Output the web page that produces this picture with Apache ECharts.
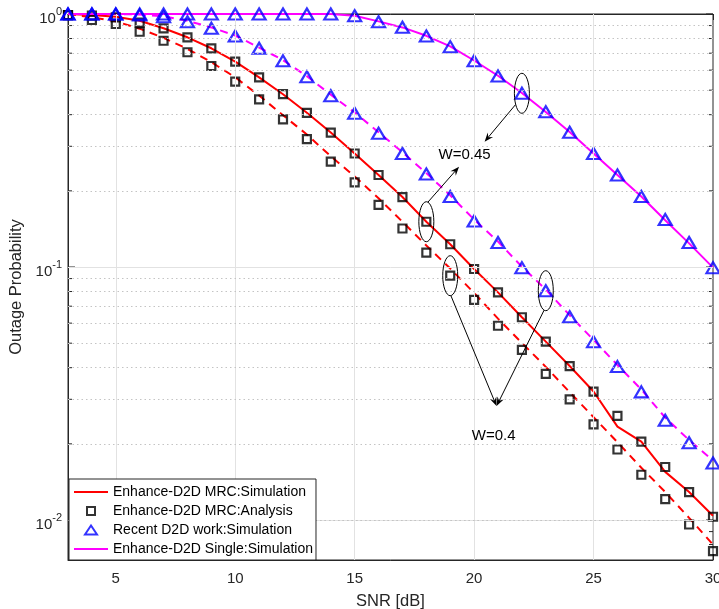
<!DOCTYPE html>
<html>
<head>
<meta charset="utf-8">
<script src="https://cdn.jsdelivr.net/npm/echarts@6/dist/echarts.min.js"></script>
<style>
  html, body { margin: 0; padding: 0; background: #fff; }
  #chart { width: 719px; height: 609px; }
</style>
</head>
<body>
<div id="chart"></div>
<script>
// SNR sweep (dB)
const snr = [3, 4, 5, 6, 7, 8, 9, 10, 11, 12, 13, 14, 15, 16, 17, 18, 19, 20, 21, 22, 23, 24, 25, 26, 27, 28, 29, 30];

// Enhance-D2D MRC, simulation (W = 0.45 solid, W = 0.4 dashed)
const mrcSimW45 = [1.0, 0.99, 0.976, 0.94, 0.878, 0.809, 0.732, 0.648, 0.562, 0.482, 0.407, 0.340, 0.281, 0.231, 0.189, 0.151, 0.123, 0.0982, 0.0794, 0.0633, 0.0507, 0.0406, 0.0322, 0.0234, 0.0204, 0.0155, 0.0129, 0.0104];
const mrcSimW40 = [1.0, 0.97, 0.935, 0.875, 0.805, 0.728, 0.645, 0.562, 0.476, 0.398, 0.334, 0.274, 0.228, 0.187, 0.151, 0.1216, 0.0986, 0.079, 0.0625, 0.0501, 0.0403, 0.032, 0.0255, 0.0203, 0.0161, 0.0129, 0.0102, 0.0080];

// Enhance-D2D MRC, analysis
const mrcAnaW45 = [0.99, 0.985, 0.97, 0.924, 0.878, 0.809, 0.732, 0.648, 0.562, 0.482, 0.407, 0.340, 0.281, 0.231, 0.189, 0.151, 0.123, 0.0982, 0.0794, 0.0633, 0.0507, 0.0406, 0.0322, 0.0258, 0.0204, 0.0162, 0.0129, 0.0103];
const mrcAnaW40 = [0.99, 0.947, 0.913, 0.851, 0.784, 0.706, 0.623, 0.540, 0.460, 0.383, 0.320, 0.261, 0.216, 0.176, 0.142, 0.114, 0.0924, 0.0741, 0.0586, 0.047, 0.0378, 0.030, 0.0239, 0.019, 0.0151, 0.0121, 0.0096, 0.00754];

// Recent D2D work, simulation
const recentW45 = [1.0, 1.0, 1.0, 1.0, 1.0, 1.0, 1.0, 1.0, 1.0, 1.0, 1.0, 1.0, 0.985, 0.932, 0.886, 0.819, 0.743, 0.653, 0.569, 0.486, 0.411, 0.341, 0.281, 0.231, 0.190, 0.154, 0.125, 0.0994];
const recentW40 = [1.0, 1.0, 1.0, 0.99, 0.976, 0.932, 0.878, 0.818, 0.732, 0.653, 0.565, 0.475, 0.405, 0.338, 0.281, 0.233, 0.190, 0.152, 0.125, 0.0994, 0.0806, 0.0636, 0.0507, 0.0404, 0.0321, 0.0248, 0.0202, 0.0168];

// Enhance-D2D single antenna, simulation
const singleSimW45 = [1.0, 1.0, 1.0, 1.0, 1.0, 1.0, 1.0, 1.0, 1.0, 1.0, 1.0, 1.0, 0.985, 0.935, 0.885, 0.82, 0.745, 0.655, 0.57, 0.487, 0.41, 0.342, 0.281, 0.231, 0.19, 0.153, 0.124, 0.0994];
const singleSimW40 = [1.0, 1.0, 1.0, 0.995, 0.98, 0.94, 0.885, 0.822, 0.737, 0.657, 0.568, 0.48, 0.408, 0.341, 0.284, 0.235, 0.192, 0.154, 0.126, 0.1003, 0.0815, 0.0645, 0.0515, 0.041, 0.0328, 0.0254, 0.0207, 0.0172];

// Axis ticks
const xTicks = [5, 10, 15, 20, 25, 30];
const yDecades = [0.01, 0.1, 1];
const yMinor = [0.008, 0.009, 0.02, 0.03, 0.04, 0.05, 0.06, 0.07, 0.08, 0.09, 0.2, 0.3, 0.4, 0.5, 0.6, 0.7, 0.8, 0.9];

// Callouts: ring around a marker, arrow to a shared label
const rings = [
  { at: 22, on: recentW45, tip: [20.44, 0.313], from: 146 },
  { at: 18, on: mrcAnaW45, tip: [19.37, 0.249], from: -78 },
  { at: 19, on: mrcAnaW40, tip: [20.94, 0.0282], from: 85 },
  { at: 23, on: recentW40, tip: [20.94, 0.0282], from: 103 }
];
const notes = [
  { text: 'W=0.45', at: [19.60, 0.277] },
  { text: 'W=0.4', at: [20.82, 0.0215] }
];

const X_MIN = 3, X_MAX = 30, Y_MIN = 0.00695, Y_MAX = 1;
const FONT = "'Liberation Sans', Arial, Helvetica, sans-serif";
const AXIS_COLOR = '#262626';

const pairs = (ys) => snr.map((x, i) => [x, ys[i]]);

const chart = echarts.init(document.getElementById('chart'), null, { renderer: 'canvas' });

const gridMarks = [].concat(
  xTicks.filter(v => v < X_MAX).map(v => ({ xAxis: v, lineStyle: { color: '#e2e2e2', width: 1, type: 'solid' } })),
  yDecades.filter(v => v < Y_MAX).map(v => ({ yAxis: v, lineStyle: { color: '#e2e2e2', width: 1, type: 'solid' } })),
  yMinor.map(v => ({ yAxis: v, lineStyle: { color: '#c4c4c4', width: 1, type: [1.5, 3] } }))
);

const lineSeries = (name, ys, color, dashed) => ({
  name, type: 'line', data: pairs(ys), symbol: 'none', clip: false, z: 3,
  lineStyle: { color, width: 2, type: dashed ? [8, 6] : 'solid' },
  itemStyle: { color }, emphasis: { disabled: true }
});
const markerSeries = (name, ys, symbol, size, color) => ({
  name, type: 'scatter', data: pairs(ys), symbol, symbolSize: size, clip: false, z: 4,
  itemStyle: { color: 'transparent', borderColor: color, borderWidth: 2.2 },
  emphasis: { disabled: true }
});

const option = {
  animation: false,
  backgroundColor: '#fff',
  grid: {
    left: 68, right: 6, top: 14, bottom: 49, outerBoundsMode: 'none', containLabel: false,
    show: true, borderColor: AXIS_COLOR, borderWidth: 1, backgroundColor: 'transparent'
  },
  xAxis: [
    {
      type: 'value', min: X_MIN, max: X_MAX, position: 'bottom',
      name: 'SNR [dB]', nameLocation: 'middle', nameGap: 33,
      nameTextStyle: { fontFamily: FONT, fontSize: 16.5, color: AXIS_COLOR },
      axisLine: { show: true, lineStyle: { color: AXIS_COLOR, width: 1 } },
      axisTick: { show: true, inside: true, length: 6, customValues: xTicks, lineStyle: { color: AXIS_COLOR } },
      axisLabel: { show: true, customValues: xTicks, margin: 11, fontFamily: FONT, fontSize: 15, color: AXIS_COLOR },
      splitLine: { show: false }
    },
    {
      type: 'value', min: X_MIN, max: X_MAX, position: 'top',
      axisLine: { show: true, lineStyle: { color: AXIS_COLOR, width: 1 } },
      axisTick: { show: true, inside: true, length: 6, customValues: xTicks, lineStyle: { color: AXIS_COLOR } },
      axisLabel: { show: false },
      splitLine: { show: false }
    }
  ],
  yAxis: {
    type: 'log', logBase: 10, min: Y_MIN, max: Y_MAX,
    name: 'Outage Probability', nameLocation: 'middle', nameGap: 30,
    nameTextStyle: { fontFamily: FONT, fontSize: 16.5, color: AXIS_COLOR },
    axisLine: { show: true, lineStyle: { color: AXIS_COLOR, width: 1 } },
    axisTick: { show: false },
    splitLine: { show: false },
    axisLabel: {
      show: true, margin: 6,
      padding: [10, 0, 0, 0],
      formatter: (v) => {
        const e = Math.log10(v);
        const r = Math.round(e);
        if (Math.abs(e - r) > 1e-6) return '';
        return '{b|10}{s|' + r + '}';
      },
      rich: {
        b: { fontFamily: FONT, fontSize: 15, color: AXIS_COLOR, lineHeight: 26 },
        s: { fontFamily: FONT, fontSize: 11, color: AXIS_COLOR, lineHeight: 13, verticalAlign: 'top' }
      }
    }
  },
  legend: {
    orient: 'vertical', left: 69, top: 479, z: 20,
    padding: [6, 3, 4, 5], itemGap: 5, itemWidth: 34, itemHeight: 12,
    backgroundColor: '#fff', borderColor: AXIS_COLOR, borderWidth: 1, borderRadius: 0,
    selectedMode: false,
    textStyle: { fontFamily: FONT, fontSize: 14, color: '#000', lineHeight: 14 },
    data: [
      { name: 'Enhance-D2D MRC:Simulation', icon: 'path://M0,0M34,12M0,5H34V7H0Z', itemStyle: { color: '#ff0000', borderWidth: 0 } },
      { name: 'Enhance-D2D MRC:Analysis', icon: 'path://M0,0M14,12M3,2H11V10H3Z', itemStyle: { color: 'transparent', borderColor: '#000', borderWidth: 2 } },
      { name: 'Recent D2D work:Simulation', icon: 'path://M0,0M14,12M7,1.5L13,10.5H1Z', itemStyle: { color: 'transparent', borderColor: '#0000ff', borderWidth: 2 } },
      { name: 'Enhance-D2D Single:Simulation', icon: 'path://M0,0M34,12M0,5H34V7H0Z', itemStyle: { color: '#ff00ff', borderWidth: 0 } }
    ]
  },
  series: [
    // background grid
    {
      name: 'grid', type: 'line', data: [], z: 1, silent: true,
      markLine: { silent: true, symbol: ['none', 'none'], label: { show: false }, animation: false, data: gridMarks }
    },
    // y ticks, both sides, major and minor
    {
      name: 'yticks', type: 'custom', z: 2, silent: true, clip: false,
      data: yDecades.map(v => [X_MIN, v, 1]).concat(yMinor.map(v => [X_MIN, v, 0])),
      renderItem: (params, api) => {
        const v = api.value(1);
        const len = api.value(2) ? 7 : 4;
        const p = api.coord([X_MIN, v]);
        const q = api.coord([X_MAX, v]);
        const st = { stroke: AXIS_COLOR, lineWidth: 1 };
        return {
          type: 'group', children: [
            { type: 'line', shape: { x1: p[0], y1: p[1], x2: p[0] + len, y2: p[1] }, style: st },
            { type: 'line', shape: { x1: q[0] - len, y1: q[1], x2: q[0], y2: q[1] }, style: st }
          ]
        };
      }
    },
    lineSeries('Enhance-D2D MRC:Simulation', mrcSimW45, '#ff0000', false),
    lineSeries('Enhance-D2D MRC:Simulation', mrcSimW40, '#ff0000', true),
    lineSeries('Enhance-D2D Single:Simulation', singleSimW45, '#ff00ff', false),
    lineSeries('Enhance-D2D Single:Simulation', singleSimW40, '#ff00ff', true),
    markerSeries('Enhance-D2D MRC:Analysis', mrcAnaW45, 'rect', 8, '#000'),
    markerSeries('Enhance-D2D MRC:Analysis', mrcAnaW40, 'rect', 8, '#000'),
    markerSeries('Recent D2D work:Simulation', recentW45, 'triangle', [13, 11], '#0000ff'),
    markerSeries('Recent D2D work:Simulation', recentW40, 'triangle', [13, 11], '#0000ff'),
    // callout rings with arrows
    {
      name: 'rings', type: 'custom', z: 6, silent: true, clip: false,
      data: rings.map((r, i) => [r.at, r.on[snr.indexOf(r.at)], i]),
      renderItem: (params, api) => {
        const r = rings[api.value(2)];
        const c = api.coord([api.value(0), api.value(1)]);
        const rx = 7.5, ry = 20;
        const a = r.from * Math.PI / 180;
        const s = [c[0] + rx * Math.cos(a), c[1] + ry * Math.sin(a)];
        const t = api.coord(r.tip);
        const dx = t[0] - s[0], dy = t[1] - s[1];
        const d = Math.hypot(dx, dy);
        const ux = dx / d, uy = dy / d, nx = -uy, ny = ux;
        const L = 9, W = 3.5;
        const head = [
          [t[0], t[1]],
          [t[0] - L * ux + W * nx, t[1] - L * uy + W * ny],
          [t[0] - 0.65 * L * ux, t[1] - 0.65 * L * uy],
          [t[0] - L * ux - W * nx, t[1] - L * uy - W * ny]
        ];
        return {
          type: 'group', children: [
            { type: 'ellipse', shape: { cx: c[0], cy: c[1], rx, ry }, style: { fill: 'none', stroke: '#000', lineWidth: 1 } },
            { type: 'line', shape: { x1: s[0], y1: s[1], x2: t[0] - 0.6 * L * ux, y2: t[1] - 0.6 * L * uy }, style: { stroke: '#000', lineWidth: 1 } },
            { type: 'polygon', shape: { points: head }, style: { fill: '#000', stroke: 'none' } }
          ]
        };
      }
    },
    // callout labels
    {
      name: 'notes', type: 'custom', z: 6, silent: true, clip: false,
      data: notes.map((n, i) => [n.at[0], n.at[1], i]),
      renderItem: (params, api) => {
        const p = api.coord([api.value(0), api.value(1)]);
        return {
          type: 'text',
          style: { text: notes[api.value(2)].text, x: p[0], y: p[1], align: 'center', verticalAlign: 'middle', font: '15px ' + FONT, fill: '#000' }
        };
      }
    }
  ]
};

chart.setOption(option);
</script>
</body>
</html>
